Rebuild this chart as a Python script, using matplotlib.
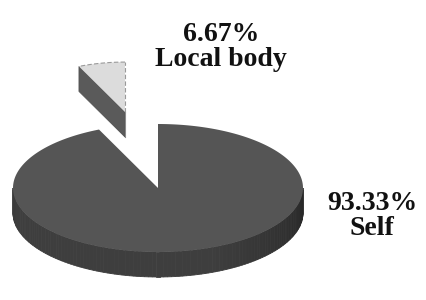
import numpy as np
import matplotlib.pyplot as plt
from matplotlib.patches import Polygon

# data
labels = ['Self', 'Local body']
values = [93.33, 6.67]
label_text = ['93.33%\nSelf', '6.67%\nLocal body']

fig = plt.figure(figsize=(4.27, 3.0), dpi=100)
ax = fig.add_axes([0, 0, 1, 1])
ax.set_xlim(0, 427)
ax.set_ylim(300, 0)
ax.axis('off')

# geometry of the pseudo-3D pie (pixel units)
cx, cy = 158, 188
a, b = 145, 64
depth = 25
start = 90

fracs = np.array(values) / sum(values)
small_span = 360 * fracs[1]
t0_small, t1_small = start, start + small_span          # 90 .. 114
t0_big, t1_big = t1_small, start + 360                  # 114 .. 450


def pt(theta, x0, y0, ra, rb, dz=0):
    th = np.radians(theta)
    return x0 + ra * np.cos(th), y0 - rb * np.sin(th) + dz


def wall_grey(theta):
    # a bit darker on the far right of the visible wall
    g = 0.245
    if theta > 290:
        g -= 0.09 * (theta - 290) / 70
    if theta < 200:
        g -= 0.02 * (200 - theta) / 20
    return (g, g, g)


# main slice: outer wall (front half)
ths = np.linspace(180, 360, 120)
for t1, t2 in zip(ths[:-1], ths[1:]):
    p1 = pt(t1, cx, cy, a, b)
    p2 = pt(t2, cx, cy, a, b)
    poly = [p1, p2, (p2[0], p2[1] + depth), (p1[0], p1[1] + depth)]
    c = wall_grey((t1 + t2) / 2)
    ax.add_patch(Polygon(poly, closed=True, facecolor=c, edgecolor=c, lw=0.6))

# main slice: top face
arc = [pt(t, cx, cy, a, b) for t in np.linspace(t0_big, t1_big, 300)]
ax.add_patch(Polygon([(cx, cy)] + arc, closed=True, facecolor='#555555', edgecolor='none'))

# exploded small slice
sx, sy = 125, 112
s = 0.78
sa, sb = a * s, b * s
p_end = pt(t1_small, sx, sy, sa, sb)
wall = [(sx, sy), p_end, (p_end[0], p_end[1] + depth), (sx, sy + depth)]
ax.add_patch(Polygon(wall, closed=True, facecolor='#5a5a5a', edgecolor='#525252', lw=0.6))
ax.plot([sx, sx], [sy, sy + depth], color='#8a8a8a', lw=0.8)

arc_s = [pt(t, sx, sy, sa, sb) for t in np.linspace(t0_small, t1_small, 30)]
ax.add_patch(Polygon([(sx, sy)] + arc_s, closed=True, facecolor='#dcdcdc', edgecolor='none'))
xs, ys = zip(*arc_s)
ax.plot(xs, ys, color='#9a9a9a', lw=0.8, ls=(0, (4, 2)))
ax.plot([sx, sx], [sy, arc_s[0][1]], color='#9a9a9a', lw=0.8, ls=(0, (4, 2)))

# labels
font = dict(family='Liberation Serif', fontweight='bold', fontsize=20,
            ha='center', va='center', linespacing=1.0, color='#111111')
ax.text(221, 47, label_text[1], **font)
ax.text(372, 216, label_text[0], **font)

fig.savefig('out.png', dpi=100)
